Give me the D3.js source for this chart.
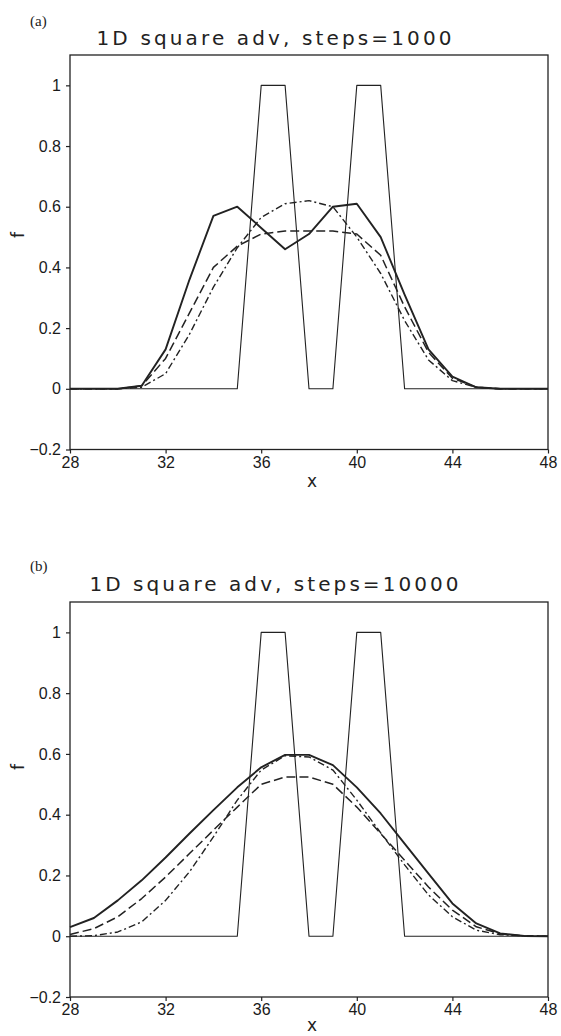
<!DOCTYPE html>
<html>
<head>
<meta charset="utf-8">
<script src="https://cdn.jsdelivr.net/npm/d3@7"></script>
<style>
  body { margin: 0; background: #fff; }
  svg { display: block; }
  .tick text { font-family: "Liberation Sans", Arial, sans-serif; font-size: 16px; fill: #1a1a1a; }
  .domain { display: none; }
  .tick line { stroke: #222; stroke-width: 1.2; }
</style>
</head>
<body>
<svg id="chart" width="561" height="1036"></svg>
<script>
// grid points (x) shared by both panels
const x_grid = [28, 29, 30, 31, 32, 33, 34, 35, 36, 37, 38, 39, 40, 41, 42, 43, 44, 45, 46, 47, 48];
const x_ticks = [28, 32, 36, 40, 44, 48];
const y_ticks = [-0.2, 0, 0.2, 0.4, 0.6, 0.8, 1];

// initial condition (two square pulses)
const square_init = [0, 0, 0, 0, 0, 0, 0, 0, 1, 1, 0, 0, 1, 1, 0, 0, 0, 0, 0, 0, 0];

// (a) steps=1000
const a_solid   = [0, 0, 0, 0.01, 0.13, 0.36, 0.57, 0.60, 0.53, 0.46, 0.51, 0.60, 0.61, 0.50, 0.31, 0.13, 0.04, 0.005, 0, 0, 0];
const a_dashed  = [0, 0, 0, 0.01, 0.10, 0.25, 0.40, 0.47, 0.51, 0.52, 0.52, 0.52, 0.51, 0.44, 0.27, 0.12, 0.035, 0.005, 0, 0, 0];
const a_dashdot = [0, 0, 0, 0.005, 0.05, 0.18, 0.335, 0.465, 0.565, 0.61, 0.62, 0.60, 0.50, 0.38, 0.225, 0.095, 0.027, 0.005, 0, 0, 0];

// (b) steps=10000
const b_solid   = [0.03, 0.06, 0.118, 0.184, 0.259, 0.338, 0.415, 0.49, 0.556, 0.597, 0.597, 0.563, 0.49, 0.404, 0.305, 0.206, 0.108, 0.042, 0.009, 0.001, 0];
const b_dashed  = [0.006, 0.025, 0.064, 0.124, 0.195, 0.272, 0.349, 0.425, 0.50, 0.524, 0.524, 0.50, 0.425, 0.338, 0.25, 0.162, 0.086, 0.031, 0.008, 0.001, 0];
const b_dashdot = [0, 0.002, 0.014, 0.047, 0.118, 0.212, 0.327, 0.448, 0.547, 0.594, 0.59, 0.547, 0.448, 0.34, 0.235, 0.136, 0.064, 0.02, 0.005, 0.001, 0];

const panels = [
    { tag: '(a)', title: '1D square adv, steps=1000', top: 55, bottom: 449.5,
      solid: a_solid, dashed: a_dashed, dashdot: a_dashdot, tag_y: 26, title_y: 45, f_y: 235, x_y: 487 },
    { tag: '(b)', title: '1D square adv, steps=10000', top: 602, bottom: 997,
      solid: b_solid, dashed: b_dashed, dashdot: b_dashdot, tag_y: 571, title_y: 591, f_y: 767, x_y: 1031 }
];

const left = 70;
const right = 548;
const ink = '#222';

const svg = d3.select('#chart');

function draw_panel(p) {
    const g = svg.append('g');

    const xScale = d3.scaleLinear().domain([28, 48]).range([left, right]);
    const yScale = d3.scaleLinear().domain([-0.2, 1.1]).range([p.bottom, p.top]);

    // frame
    g.append('rect')
        .attr('x', left).attr('y', p.top)
        .attr('width', right - left).attr('height', p.bottom - p.top)
        .attr('fill', 'none').attr('stroke', ink).attr('stroke-width', 1.3);

    g.append('g')
        .attr('transform', `translate(0, ${p.bottom})`)
        .call(d3.axisBottom(xScale).tickValues(x_ticks).tickSize(4).tickPadding(3).tickFormat(d3.format('d')));

    g.append('g')
        .attr('transform', `translate(${left}, 0)`)
        .call(d3.axisLeft(yScale).tickValues(y_ticks).tickSize(4).tickPadding(5)
            .tickFormat(d => d === 0 || d === 1 ? String(d) : d3.format('.1f')(d).replace('-', '\u2212')));

    const series = [
        { vals: square_init, width: 1.1, dash: null },
        { vals: p.dashdot, width: 1.4, dash: '7,3,2,3' },
        { vals: p.dashed, width: 1.5, dash: '9,4' },
        { vals: p.solid, width: 1.9, dash: null }
    ];

    const line = d3.line()
        .x((d, i) => xScale(x_grid[i]))
        .y(d => yScale(d));

    series.forEach(s => {
        g.append('path')
            .datum(s.vals)
            .attr('d', line)
            .attr('fill', 'none')
            .attr('stroke', ink)
            .attr('stroke-width', s.width)
            .attr('stroke-linejoin', 'round')
            .attr('stroke-dasharray', s.dash);
    });

    // labels
    g.append('text')
        .attr('x', 30).attr('y', p.tag_y)
        .attr('font-family', '"Liberation Serif", serif').attr('font-size', 15)
        .attr('fill', ink).text(p.tag);

    g.append('text')
        .attr('x', 274).attr('y', p.title_y)
        .attr('text-anchor', 'middle')
        .attr('font-family', '"DejaVu Sans", sans-serif').attr('font-size', 20)
        .attr('textLength', p.title.length * 14.2).attr('lengthAdjust', 'spacing')
        .attr('fill', ink).text(p.title);

    g.append('text')
        .attr('x', 312).attr('y', p.x_y)
        .attr('text-anchor', 'middle')
        .attr('font-family', '"DejaVu Sans", sans-serif').attr('font-size', 17)
        .attr('fill', ink).text('x');

    g.append('text')
        .attr('transform', `translate(24, ${p.f_y}) rotate(-90)`)
        .attr('text-anchor', 'middle')
        .attr('font-family', '"DejaVu Sans", sans-serif').attr('font-size', 17)
        .attr('fill', ink).text('f');
}

panels.forEach(draw_panel);
</script>
</body>
</html>
